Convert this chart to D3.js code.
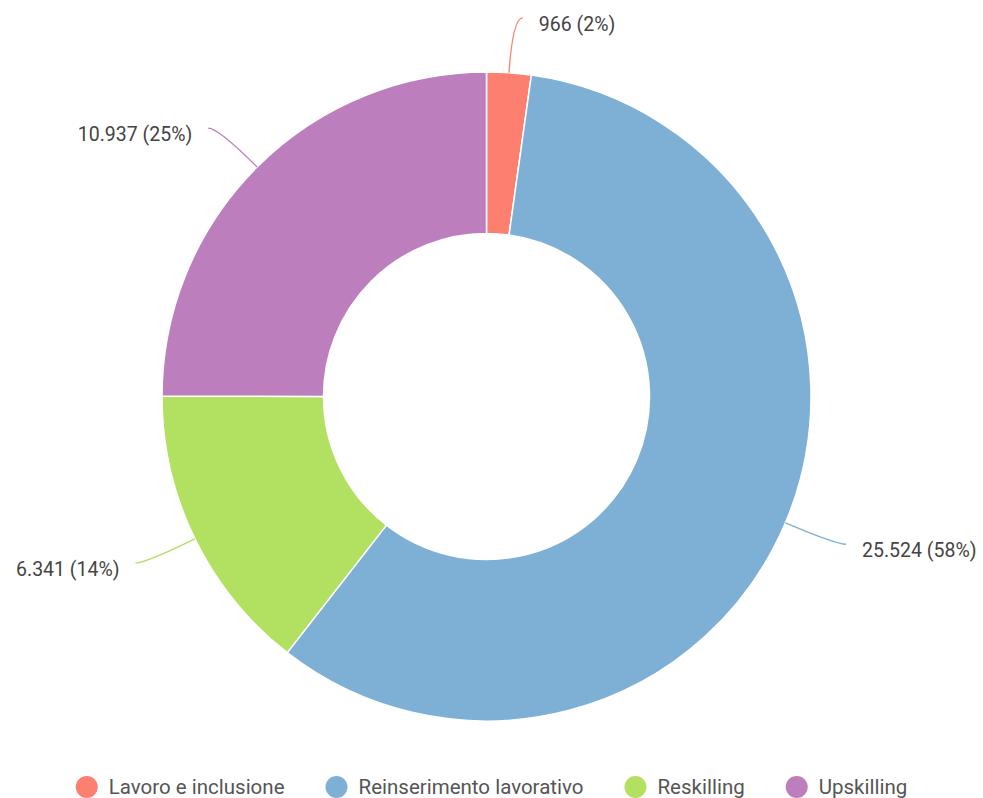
<!DOCTYPE html>
<html>
<head>
<meta charset="utf-8">
<script src="https://cdn.jsdelivr.net/npm/d3@7"></script>
<style>
  html, body { margin: 0; padding: 0; background: #fff; }
  svg { display: block; font-family: Roboto, "Noto Sans", sans-serif; }
</style>
</head>
<body>
<svg id="chart" width="983" height="798"></svg>
<script>
// data
const categories = ['Lavoro e inclusione', 'Reinserimento lavorativo', 'Reskilling', 'Upskilling'];
const values = [966, 25524, 6341, 10937];
const colors = ['#fd7f6f', '#7eb0d5', '#b2e061', '#bd7ebe'];

const W = 983, H = 798;
const cx = 486.5, cy = 396.5;
const outerR = 324.5, innerR = 163;
const lead1 = 55, lead2 = 10;

const svg = d3.select('#chart');
const g = svg.append('g').attr('transform', `translate(${cx},${cy})`);

const total = d3.sum(values);
const data = categories.map((c, i) => ({ name: c, value: values[i], color: colors[i] }));

const pie = d3.pie().value(d => d.value).sort(null);
const arc = d3.arc().innerRadius(innerR).outerRadius(outerR);
const arcs = pie(data);

g.selectAll('path.slice')
  .data(arcs)
  .join('path')
  .attr('class', 'slice')
  .attr('d', arc)
  .attr('fill', d => d.data.color)
  .attr('stroke', '#fff')
  .attr('stroke-width', 1.5);

const fmt = d3.formatLocale({ decimal: ',', thousands: '.', grouping: [3], currency: ['€', ''] }).format(',d');

// leader lines + labels
function pt(a, r) { return [r * Math.sin(a), -r * Math.cos(a)]; }

arcs.forEach(d => {
  const mid = (d.startAngle + d.endAngle) / 2;
  const right = Math.sin(mid) >= 0;
  const p1 = pt(mid, outerR);
  const p2 = pt(mid, outerR + lead1);
  const p3 = [p2[0] + (right ? lead2 : -lead2), p2[1]];
  g.append('path')
    .attr('d', `M${p1[0]},${p1[1]}Q${p2[0]},${p2[1]} ${p3[0]},${p3[1]}`)
    .attr('fill', 'none')
    .attr('stroke', d.data.color)
    .attr('stroke-width', 1.3);
  const pct = Math.round(d.data.value / total * 100);
  g.append('text')
    .attr('x', p3[0] + (right ? 16 : -16))
    .attr('y', p3[1] + 6)
    .attr('dy', '0.35em')
    .attr('text-anchor', right ? 'start' : 'end')
    .attr('font-size', 19.5)
    .attr('fill', '#444')
    .text(`${fmt(d.data.value)} (${pct}%)`);
});

// legend
const legend = svg.append('g').attr('transform', `translate(0,787)`);
const items = legend.selectAll('g.item')
  .data(data)
  .join('g')
  .attr('class', 'item');
items.append('circle').attr('r', 11).attr('cx', 11).attr('fill', d => d.color);
items.append('text')
  .attr('x', 33)
  .attr('dy', '0.35em')
  .attr('font-size', 20.5)
  .attr('fill', '#555')
  .text(d => d.name);

let x = 0;
const gap = 41;
const widths = [];
items.each(function () {
  const w = 33 + this.querySelector('text').getComputedTextLength();
  widths.push(w);
});
const totalW = d3.sum(widths) + gap * (widths.length - 1);
x = (W - totalW) / 2;
items.attr('transform', (d, i) => {
  const t = `translate(${x},0)`;
  x += widths[i] + gap;
  return t;
});
</script>
</body>
</html>
